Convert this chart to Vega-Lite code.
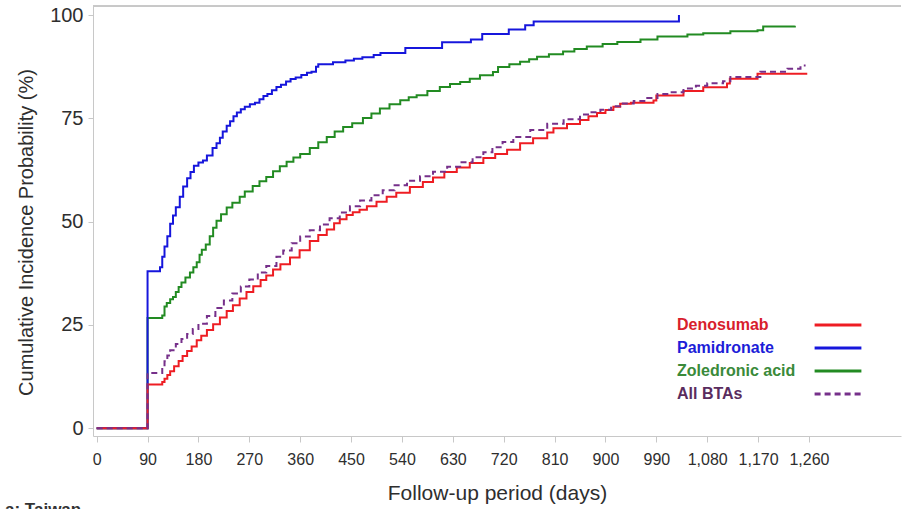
{
  "$schema": "https://vega.github.io/schema/vega-lite/v6.json",
  "width": 808,
  "height": 430,
  "autosize": {"type": "none"},
  "padding": {"left": 93, "top": 6, "right": 1, "bottom": 73},
  "background": "white",
  "config": {
    "view": {"stroke": null},
    "font": "Liberation Sans",
    "axis": {"labelFont": "Liberation Sans", "titleFont": "Liberation Sans", "grid": false, "domainColor": "#c8c8c8", "tickColor": "#c8c8c8", "labelColor": "#2e2e2e", "titleColor": "#2e2e2e", "titleFontWeight": "normal"}
  },
  "title": {"text": "a: Taiwan", "orient": "bottom", "anchor": "start", "frame": "group", "dx": -88, "offset": -1, "fontSize": 17, "fontWeight": "bold", "color": "#333333", "font": "Liberation Sans"},
  "data": {"values": [
    {"s":"Zoledronic acid","d":0,"p":0},{"s":"Zoledronic acid","d":90,"p":26.7},{"s":"Zoledronic acid","d":112,"p":26.7},{"s":"Zoledronic acid","d":116,"p":27.3},{"s":"Zoledronic acid","d":120,"p":29.5},{"s":"Zoledronic acid","d":124,"p":30.3},{"s":"Zoledronic acid","d":130,"p":31.2},{"s":"Zoledronic acid","d":135,"p":31.8},{"s":"Zoledronic acid","d":140,"p":33.0},{"s":"Zoledronic acid","d":145,"p":34.2},{"s":"Zoledronic acid","d":150,"p":35.3},{"s":"Zoledronic acid","d":157,"p":36.5},{"s":"Zoledronic acid","d":165,"p":37.7},{"s":"Zoledronic acid","d":171,"p":39.0},{"s":"Zoledronic acid","d":177,"p":40.2},{"s":"Zoledronic acid","d":182,"p":42.0},{"s":"Zoledronic acid","d":186,"p":43.2},{"s":"Zoledronic acid","d":193,"p":44.5},{"s":"Zoledronic acid","d":200,"p":46.5},{"s":"Zoledronic acid","d":206,"p":48.5},{"s":"Zoledronic acid","d":212,"p":50.2},{"s":"Zoledronic acid","d":220,"p":51.8},{"s":"Zoledronic acid","d":230,"p":53.4},{"s":"Zoledronic acid","d":240,"p":54.6},{"s":"Zoledronic acid","d":253,"p":56.0},{"s":"Zoledronic acid","d":262,"p":57.3},{"s":"Zoledronic acid","d":276,"p":58.6},{"s":"Zoledronic acid","d":288,"p":59.8},{"s":"Zoledronic acid","d":300,"p":60.8},{"s":"Zoledronic acid","d":312,"p":62.2},{"s":"Zoledronic acid","d":324,"p":63.4},{"s":"Zoledronic acid","d":336,"p":64.5},{"s":"Zoledronic acid","d":348,"p":65.5},{"s":"Zoledronic acid","d":360,"p":66.4},{"s":"Zoledronic acid","d":377,"p":67.8},{"s":"Zoledronic acid","d":392,"p":69.2},{"s":"Zoledronic acid","d":407,"p":70.5},{"s":"Zoledronic acid","d":421,"p":71.8},{"s":"Zoledronic acid","d":436,"p":72.9},{"s":"Zoledronic acid","d":452,"p":73.8},{"s":"Zoledronic acid","d":471,"p":75.1},{"s":"Zoledronic acid","d":486,"p":76.2},{"s":"Zoledronic acid","d":501,"p":77.4},{"s":"Zoledronic acid","d":518,"p":78.4},{"s":"Zoledronic acid","d":537,"p":79.4},{"s":"Zoledronic acid","d":552,"p":80.1},{"s":"Zoledronic acid","d":566,"p":80.6},{"s":"Zoledronic acid","d":585,"p":81.6},{"s":"Zoledronic acid","d":607,"p":82.6},{"s":"Zoledronic acid","d":625,"p":83.3},{"s":"Zoledronic acid","d":643,"p":83.8},{"s":"Zoledronic acid","d":660,"p":84.6},{"s":"Zoledronic acid","d":678,"p":85.4},{"s":"Zoledronic acid","d":701,"p":86.2},{"s":"Zoledronic acid","d":710,"p":87.4},{"s":"Zoledronic acid","d":730,"p":88.1},{"s":"Zoledronic acid","d":749,"p":88.7},{"s":"Zoledronic acid","d":765,"p":89.3},{"s":"Zoledronic acid","d":779,"p":89.9},{"s":"Zoledronic acid","d":800,"p":90.5},{"s":"Zoledronic acid","d":825,"p":91.2},{"s":"Zoledronic acid","d":845,"p":91.8},{"s":"Zoledronic acid","d":867,"p":92.4},{"s":"Zoledronic acid","d":895,"p":93.0},{"s":"Zoledronic acid","d":921,"p":93.5},{"s":"Zoledronic acid","d":962,"p":94.1},{"s":"Zoledronic acid","d":992,"p":94.8},{"s":"Zoledronic acid","d":1045,"p":95.3},{"s":"Zoledronic acid","d":1073,"p":95.6},{"s":"Zoledronic acid","d":1121,"p":96.1},{"s":"Zoledronic acid","d":1169,"p":96.3},{"s":"Zoledronic acid","d":1179,"p":97.2},{"s":"Zoledronic acid","d":1235,"p":97.4},

    {"s":"Pamidronate","d":0,"p":0},{"s":"Pamidronate","d":90,"p":38.0},{"s":"Pamidronate","d":108,"p":38.0},{"s":"Pamidronate","d":112,"p":39.0},{"s":"Pamidronate","d":116,"p":41.5},{"s":"Pamidronate","d":120,"p":44.0},{"s":"Pamidronate","d":125,"p":46.5},{"s":"Pamidronate","d":130,"p":49.5},{"s":"Pamidronate","d":135,"p":51.5},{"s":"Pamidronate","d":140,"p":53.5},{"s":"Pamidronate","d":147,"p":56.0},{"s":"Pamidronate","d":153,"p":58.5},{"s":"Pamidronate","d":160,"p":60.5},{"s":"Pamidronate","d":166,"p":62.0},{"s":"Pamidronate","d":172,"p":63.5},{"s":"Pamidronate","d":180,"p":64.3},{"s":"Pamidronate","d":188,"p":64.8},{"s":"Pamidronate","d":195,"p":66.0},{"s":"Pamidronate","d":205,"p":67.8},{"s":"Pamidronate","d":212,"p":69.0},{"s":"Pamidronate","d":218,"p":70.3},{"s":"Pamidronate","d":223,"p":71.8},{"s":"Pamidronate","d":230,"p":73.2},{"s":"Pamidronate","d":236,"p":74.3},{"s":"Pamidronate","d":242,"p":75.5},{"s":"Pamidronate","d":248,"p":76.4},{"s":"Pamidronate","d":255,"p":77.2},{"s":"Pamidronate","d":262,"p":77.8},{"s":"Pamidronate","d":271,"p":78.4},{"s":"Pamidronate","d":280,"p":78.8},{"s":"Pamidronate","d":288,"p":79.6},{"s":"Pamidronate","d":295,"p":80.4},{"s":"Pamidronate","d":302,"p":80.9},{"s":"Pamidronate","d":310,"p":81.8},{"s":"Pamidronate","d":318,"p":82.6},{"s":"Pamidronate","d":326,"p":83.1},{"s":"Pamidronate","d":335,"p":83.9},{"s":"Pamidronate","d":343,"p":84.5},{"s":"Pamidronate","d":352,"p":84.9},{"s":"Pamidronate","d":362,"p":85.5},{"s":"Pamidronate","d":372,"p":86.0},{"s":"Pamidronate","d":380,"p":86.3},{"s":"Pamidronate","d":388,"p":87.5},{"s":"Pamidronate","d":392,"p":88.1},{"s":"Pamidronate","d":418,"p":88.6},{"s":"Pamidronate","d":440,"p":89.0},{"s":"Pamidronate","d":455,"p":89.4},{"s":"Pamidronate","d":470,"p":89.8},{"s":"Pamidronate","d":490,"p":90.3},{"s":"Pamidronate","d":502,"p":90.8},{"s":"Pamidronate","d":546,"p":92.0},{"s":"Pamidronate","d":611,"p":93.4},{"s":"Pamidronate","d":662,"p":94.1},{"s":"Pamidronate","d":682,"p":95.4},{"s":"Pamidronate","d":729,"p":96.5},{"s":"Pamidronate","d":758,"p":97.5},{"s":"Pamidronate","d":773,"p":98.4},{"s":"Pamidronate","d":1030,"p":100.0},

    {"s":"Denosumab","d":0,"p":0},{"s":"Denosumab","d":90,"p":10.6},{"s":"Denosumab","d":112,"p":10.6},{"s":"Denosumab","d":116,"p":11.2},{"s":"Denosumab","d":120,"p":12.0},{"s":"Denosumab","d":125,"p":12.9},{"s":"Denosumab","d":130,"p":13.8},{"s":"Denosumab","d":137,"p":15.0},{"s":"Denosumab","d":145,"p":16.3},{"s":"Denosumab","d":152,"p":17.5},{"s":"Denosumab","d":160,"p":18.7},{"s":"Denosumab","d":168,"p":19.8},{"s":"Denosumab","d":177,"p":21.3},{"s":"Denosumab","d":185,"p":22.4},{"s":"Denosumab","d":195,"p":23.8},{"s":"Denosumab","d":206,"p":25.2},{"s":"Denosumab","d":218,"p":26.8},{"s":"Denosumab","d":230,"p":28.4},{"s":"Denosumab","d":241,"p":29.8},{"s":"Denosumab","d":253,"p":31.4},{"s":"Denosumab","d":265,"p":33.0},{"s":"Denosumab","d":277,"p":34.4},{"s":"Denosumab","d":290,"p":35.9},{"s":"Denosumab","d":300,"p":37.0},{"s":"Denosumab","d":312,"p":38.4},{"s":"Denosumab","d":325,"p":39.7},{"s":"Denosumab","d":342,"p":41.3},{"s":"Denosumab","d":359,"p":43.1},{"s":"Denosumab","d":377,"p":45.3},{"s":"Denosumab","d":392,"p":46.8},{"s":"Denosumab","d":407,"p":48.1},{"s":"Denosumab","d":420,"p":49.6},{"s":"Denosumab","d":430,"p":50.6},{"s":"Denosumab","d":442,"p":51.6},{"s":"Denosumab","d":453,"p":52.3},{"s":"Denosumab","d":465,"p":52.9},{"s":"Denosumab","d":478,"p":53.7},{"s":"Denosumab","d":495,"p":54.8},{"s":"Denosumab","d":513,"p":56.0},{"s":"Denosumab","d":530,"p":57.0},{"s":"Denosumab","d":554,"p":58.4},{"s":"Denosumab","d":577,"p":59.6},{"s":"Denosumab","d":595,"p":60.7},{"s":"Denosumab","d":615,"p":62.0},{"s":"Denosumab","d":637,"p":63.1},{"s":"Denosumab","d":660,"p":64.2},{"s":"Denosumab","d":684,"p":65.4},{"s":"Denosumab","d":705,"p":66.4},{"s":"Denosumab","d":726,"p":67.4},{"s":"Denosumab","d":749,"p":69.0},{"s":"Denosumab","d":772,"p":70.2},{"s":"Denosumab","d":797,"p":71.6},{"s":"Denosumab","d":808,"p":72.6},{"s":"Denosumab","d":832,"p":73.6},{"s":"Denosumab","d":855,"p":74.6},{"s":"Denosumab","d":870,"p":75.5},{"s":"Denosumab","d":885,"p":76.3},{"s":"Denosumab","d":900,"p":77.0},{"s":"Denosumab","d":914,"p":77.8},{"s":"Denosumab","d":926,"p":78.5},{"s":"Denosumab","d":945,"p":78.8},{"s":"Denosumab","d":985,"p":79.3},{"s":"Denosumab","d":990,"p":80.5},{"s":"Denosumab","d":1038,"p":81.6},{"s":"Denosumab","d":1073,"p":82.5},{"s":"Denosumab","d":1115,"p":83.4},{"s":"Denosumab","d":1120,"p":84.6},{"s":"Denosumab","d":1169,"p":85.8},{"s":"Denosumab","d":1257,"p":85.8},

    {"s":"All BTAs","d":0,"p":0},{"s":"All BTAs","d":90,"p":13.4},{"s":"All BTAs","d":112,"p":13.4},{"s":"All BTAs","d":116,"p":14.8},{"s":"All BTAs","d":120,"p":16.2},{"s":"All BTAs","d":125,"p":17.6},{"s":"All BTAs","d":130,"p":18.9},{"s":"All BTAs","d":140,"p":20.4},{"s":"All BTAs","d":150,"p":21.6},{"s":"All BTAs","d":160,"p":22.8},{"s":"All BTAs","d":170,"p":24.0},{"s":"All BTAs","d":180,"p":25.3},{"s":"All BTAs","d":195,"p":27.2},{"s":"All BTAs","d":210,"p":29.1},{"s":"All BTAs","d":225,"p":30.9},{"s":"All BTAs","d":240,"p":32.6},{"s":"All BTAs","d":255,"p":34.3},{"s":"All BTAs","d":270,"p":36.0},{"s":"All BTAs","d":285,"p":37.7},{"s":"All BTAs","d":300,"p":39.3},{"s":"All BTAs","d":318,"p":41.5},{"s":"All BTAs","d":330,"p":43.0},{"s":"All BTAs","d":345,"p":44.8},{"s":"All BTAs","d":360,"p":46.4},{"s":"All BTAs","d":377,"p":47.9},{"s":"All BTAs","d":395,"p":49.3},{"s":"All BTAs","d":412,"p":50.8},{"s":"All BTAs","d":430,"p":52.2},{"s":"All BTAs","d":448,"p":53.7},{"s":"All BTAs","d":466,"p":55.1},{"s":"All BTAs","d":486,"p":56.4},{"s":"All BTAs","d":506,"p":57.6},{"s":"All BTAs","d":527,"p":58.8},{"s":"All BTAs","d":549,"p":59.9},{"s":"All BTAs","d":572,"p":61.0},{"s":"All BTAs","d":595,"p":62.1},{"s":"All BTAs","d":620,"p":63.3},{"s":"All BTAs","d":643,"p":64.4},{"s":"All BTAs","d":665,"p":65.6},{"s":"All BTAs","d":684,"p":66.8},{"s":"All BTAs","d":700,"p":68.0},{"s":"All BTAs","d":718,"p":69.3},{"s":"All BTAs","d":737,"p":70.5},{"s":"All BTAs","d":767,"p":72.2},{"s":"All BTAs","d":797,"p":73.7},{"s":"All BTAs","d":826,"p":74.8},{"s":"All BTAs","d":855,"p":75.9},{"s":"All BTAs","d":873,"p":76.5},{"s":"All BTAs","d":891,"p":77.1},{"s":"All BTAs","d":910,"p":77.9},{"s":"All BTAs","d":926,"p":78.6},{"s":"All BTAs","d":950,"p":79.2},{"s":"All BTAs","d":974,"p":79.9},{"s":"All BTAs","d":992,"p":80.9},{"s":"All BTAs","d":1015,"p":81.3},{"s":"All BTAs","d":1038,"p":82.2},{"s":"All BTAs","d":1060,"p":82.9},{"s":"All BTAs","d":1080,"p":83.5},{"s":"All BTAs","d":1108,"p":84.0},{"s":"All BTAs","d":1121,"p":85.0},{"s":"All BTAs","d":1174,"p":86.3},{"s":"All BTAs","d":1222,"p":87.0},{"s":"All BTAs","d":1245,"p":87.8},{"s":"All BTAs","d":1254,"p":87.8}
  ]},
  "layer": [
    {
      "mark": {"type": "rule", "color": "#c8c8c8", "strokeWidth": 1},
      "encoding": {"y": {"datum": 102.18, "type": "quantitative", "scale": {"domain": [-1.86, 102.18], "nice": false, "zero": false}}}
    },
    {
      "mark": {"type": "line", "interpolate": "step-after", "strokeWidth": 2},
      "encoding": {
        "x": {"field": "d", "type": "quantitative", "scale": {"domain": [-6.5, 1422.8], "nice": false, "zero": false},
          "axis": {"values": [0,90,180,270,360,450,540,630,720,810,900,990,1080,1170,1260], "format": ",d", "labelFontSize": 16, "tickSize": 6, "labelPadding": 9, "title": "Follow-up period (days)", "titleFontSize": 21, "titlePadding": 15, "labelFlush": false}},
        "y": {"field": "p", "type": "quantitative", "scale": {"domain": [-1.86, 102.18], "nice": false, "zero": false},
          "axis": {"values": [0,25,50,75,100], "labelFontSize": 20, "tickSize": 5, "labelPadding": 5, "title": "Cumulative Incidence Probability (%)", "titleFontSize": 20, "titlePadding": 13, "titleY": 226, "labelFlush": false}},
        "color": {"field": "s", "type": "nominal",
          "scale": {"domain": ["Denosumab", "Pamidronate", "Zoledronic acid", "All BTAs"], "range": ["#ee1d23", "#1616dc", "#228b22", "#76308a"]},
          "legend": {"title": null, "orient": "none", "legendX": 737, "legendY": 311, "padding": 0, "symbolType": "M-3.9,0H3.9", "symbolSize": 144, "symbolStrokeWidth": 3, "labelFontSize": 16, "labelFontWeight": "bold", "labelFont": "Liberation Sans", "labelOffset": -169, "labelLimit": 300, "rowPadding": 7,
            "encode": {"labels": {"update": {"fill": {"signal": "datum.value === 'Denosumab' ? '#d8202c' : datum.value === 'Pamidronate' ? '#1d1dd8' : datum.value === 'Zoledronic acid' ? '#3a8a3a' : '#5a2c5e'"}}}}}},
        "strokeDash": {"field": "s", "type": "nominal",
          "scale": {"domain": ["Denosumab", "Pamidronate", "Zoledronic acid", "All BTAs"], "range": [[1,0],[1,0],[1,0],[6,4]]},
          "legend": {"title": null, "orient": "none", "legendX": 737, "legendY": 311, "padding": 0, "symbolType": "M-3.9,0H3.9", "symbolSize": 144, "symbolStrokeWidth": 3, "labelFontSize": 16, "labelFontWeight": "bold", "labelFont": "Liberation Sans", "labelOffset": -169, "labelLimit": 300, "rowPadding": 7,
            "encode": {"labels": {"update": {"fill": {"signal": "datum.value === 'Denosumab' ? '#d8202c' : datum.value === 'Pamidronate' ? '#1d1dd8' : datum.value === 'Zoledronic acid' ? '#3a8a3a' : '#5a2c5e'"}}}}}}
      }
    }
  ]
}
